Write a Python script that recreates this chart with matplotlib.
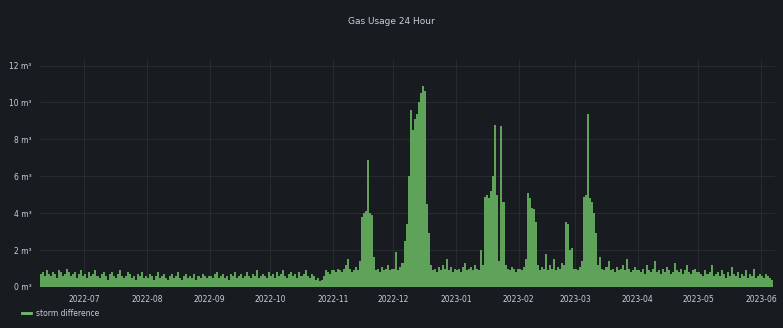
import datetime as dt

import matplotlib
matplotlib.use("Agg")
import matplotlib.pyplot as plt
import matplotlib.dates as mdates
from matplotlib.ticker import FuncFormatter, MultipleLocator

TITLE = "Gas Usage 24 Hour"
SERIES_NAME = "storm difference"
START_DATE = dt.date(2022, 6, 9)

# daily gas usage in m³, month by month
jun22 = [0.7, 0.8, 0.6, 0.9, 0.7, 0.6, 0.8, 0.7, 0.5, 0.9, 0.8, 0.6, 0.7, 1.0, 0.8, 0.6,
         0.7, 0.8, 0.5, 0.7, 0.9, 0.6]
jul22 = [0.7, 0.5, 0.8, 0.6, 0.7, 0.9, 0.6, 0.5, 0.7, 0.8, 0.6, 0.4, 0.7, 0.8, 0.6, 0.5,
         0.7, 0.9, 0.6, 0.5, 0.6, 0.8, 0.7, 0.5, 0.6, 0.4, 0.7, 0.6, 0.8, 0.5, 0.6]
aug22 = [0.5, 0.7, 0.6, 0.4, 0.6, 0.8, 0.5, 0.6, 0.7, 0.5, 0.4, 0.6, 0.7, 0.5, 0.6, 0.8,
         0.5, 0.4, 0.6, 0.7, 0.5, 0.6, 0.5, 0.7, 0.4, 0.6, 0.5, 0.7, 0.6, 0.5, 0.6]
sep22 = [0.6, 0.5, 0.7, 0.8, 0.5, 0.6, 0.7, 0.5, 0.6, 0.4, 0.7, 0.6, 0.8, 0.5, 0.6, 0.7,
         0.5, 0.6, 0.8, 0.6, 0.5, 0.7, 0.6, 0.9, 0.5, 0.6, 0.7, 0.6, 0.5, 0.8]
oct22 = [0.6, 0.7, 0.5, 0.8, 0.6, 0.7, 0.9, 0.6, 0.5, 0.7, 0.8, 0.6, 0.7, 0.5, 0.8, 0.6,
         0.7, 0.9, 0.6, 0.5, 0.7, 0.6, 0.4, 0.5, 0.3, 0.4, 0.6, 0.9, 0.8, 0.7, 0.9]
nov22 = [0.9, 0.8, 1.0, 0.9, 0.8, 1.0, 1.2, 1.5, 1.0, 0.8, 0.9, 1.1, 0.9, 1.4, 3.8, 4.0,
         4.1, 6.9, 4.0, 3.9, 1.6, 0.9, 1.0, 0.8, 1.1, 0.9, 1.0, 1.2, 0.9, 1.0]
dec22 = [1.0, 1.9, 0.9, 1.1, 1.3, 2.5, 3.4, 6.0, 9.6, 8.5, 9.1, 9.4, 10.0, 10.5, 10.9, 10.6,
         4.5, 2.9, 1.2, 0.9, 1.0, 0.8, 1.1, 0.9, 1.2, 1.0, 1.5, 0.9, 1.1, 0.8, 1.0]
jan23 = [0.9, 1.0, 0.8, 1.1, 1.3, 0.9, 1.0, 1.1, 0.9, 1.2, 1.0, 0.9, 2.0, 1.2, 4.9, 5.0,
         4.8, 5.2, 6.0, 8.8, 5.0, 1.4, 8.7, 4.6, 1.2, 1.0, 0.9, 1.1, 1.0, 0.8, 1.0]
feb23 = [1.0, 0.9, 1.1, 1.5, 5.1, 4.8, 4.3, 4.2, 3.5, 1.2, 0.9, 1.1, 1.0, 1.8, 0.9, 1.2,
         1.0, 1.5, 0.9, 1.1, 1.0, 1.3, 1.2, 3.5, 3.4, 2.0, 2.1, 1.0]
mar23 = [1.0, 0.9, 1.1, 1.4, 4.9, 5.0, 9.35, 4.8, 4.6, 4.0, 2.9, 1.2, 1.6, 1.0, 0.9, 1.1,
         1.4, 0.9, 1.0, 0.8, 1.1, 0.9, 1.0, 1.2, 0.9, 1.5, 1.0, 0.8, 0.9, 1.1, 0.9]
apr23 = [0.9, 0.8, 1.0, 0.7, 1.2, 0.9, 0.8, 1.0, 1.4, 0.8, 0.9, 0.7, 1.0, 0.8, 1.1, 0.9,
         0.7, 0.8, 1.3, 0.9, 0.8, 1.0, 0.7, 0.9, 1.2, 0.8, 0.7, 0.9, 1.0, 0.8]
may23 = [0.8, 0.7, 0.6, 0.9, 0.7, 0.8, 1.2, 0.6, 0.7, 0.8, 0.6, 0.9, 0.7, 0.5, 0.8, 0.6,
         1.1, 0.7, 0.6, 0.8, 0.5, 0.7, 0.6, 0.9, 0.5, 0.7, 0.6, 1.0, 0.5, 0.6, 0.7]
jun23 = [0.6, 0.5, 0.7, 0.6, 0.5, 0.4]

BG = "#181b1f"
FILL = "#5fa35a"
GREEN = "#73bf69"
TEXT = "#ccccdc"
GRID = "#2a2d33"


def main():
    usage = (jun22 + jul22 + aug22 + sep22 + oct22 + nov22 + dec22
             + jan23 + feb23 + mar23 + apr23 + may23 + jun23)
    days = [START_DATE + dt.timedelta(days=i) for i in range(len(usage))]

    fig = plt.figure(figsize=(7.83, 3.28), dpi=100, facecolor=BG)
    ax = fig.add_axes([0.051, 0.125, 0.939, 0.692], facecolor=BG)

    ax.bar(days, usage, width=1.0, align="edge", color=FILL, linewidth=0, zorder=3)

    ax.set_xlim(dt.date(2022, 6, 9), dt.date(2023, 6, 8))
    ax.set_ylim(0, 12.3)
    ax.yaxis.set_major_locator(MultipleLocator(2))
    ax.yaxis.set_major_formatter(FuncFormatter(lambda v, _: f"{v:.0f} m³"))
    ax.xaxis.set_major_locator(mdates.MonthLocator())
    ax.xaxis.set_major_formatter(mdates.DateFormatter("%Y-%m"))

    ax.grid(True, color=GRID, linewidth=0.6, zorder=0)
    for spine in ax.spines.values():
        spine.set_visible(False)
    ax.tick_params(colors=TEXT, labelsize=5.5, length=0, pad=6)

    fig.text(0.5, 0.935, TITLE, color=TEXT, fontsize=6.5, ha="center", va="center")

    fig.lines.append(plt.Line2D([0.028, 0.040], [0.045, 0.045], transform=fig.transFigure,
                                color=GREEN, linewidth=2))
    fig.text(0.046, 0.045, SERIES_NAME, color=TEXT, fontsize=5.5, va="center")

    fig.savefig("out.png", dpi=100, facecolor=BG)


if __name__ == "__main__":
    main()
